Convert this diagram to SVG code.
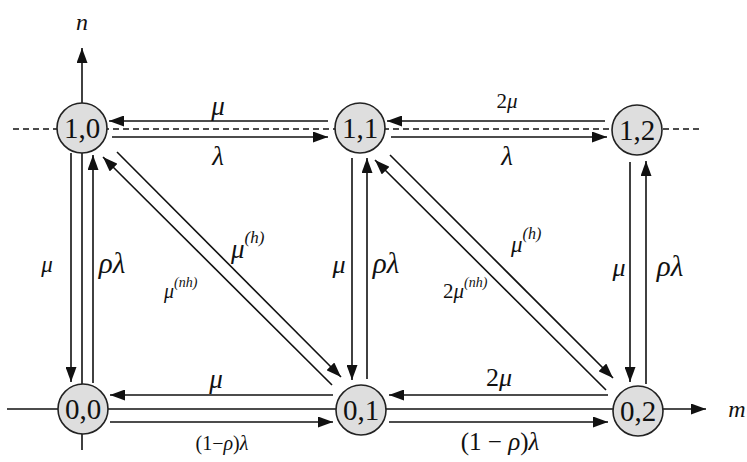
<svg xmlns="http://www.w3.org/2000/svg" width="747" height="462" viewBox="0 0 747 462">
<style>
.ln{stroke:#111;stroke-width:1.6;fill:none}
.ar{stroke:#111;stroke-width:1.6;fill:none;marker-end:url(#ah)}
.dash{stroke:#111;stroke-width:1.4;stroke-dasharray:6 4;fill:none}
.nd circle{fill:#dedede;stroke:#222;stroke-width:1.6}
.nd text{font-family:"Liberation Serif","Times New Roman",serif;font-size:29px;text-anchor:middle;fill:#111}
.lb{font-family:"Liberation Serif","Times New Roman",serif;font-style:italic;fill:#111;text-anchor:middle}
.ls{font-family:"Liberation Serif","Times New Roman",serif;font-style:italic;fill:#111;text-anchor:start}
.up{font-family:"Liberation Serif","Times New Roman",serif;fill:#111;text-anchor:middle}
</style>
<defs>
<marker id="ah" markerUnits="userSpaceOnUse" markerWidth="15" markerHeight="11" refX="15" refY="5.5" orient="auto">
<path d="M0,0 L15,5.5 L0,11 z" fill="#111"/>
</marker>
</defs>
<g id="axes">
<line class="dash" x1="13" y1="129" x2="700" y2="129"/>
<line class="ar" x1="82" y1="450" x2="82" y2="48"/>
<line class="ar" x1="7" y1="409" x2="706" y2="409"/>
<text class="lb" x="82" y="30" font-size="24">n</text>
<text class="lb" x="737" y="417" font-size="24">m</text>
</g>
<g id="connectors">
<line class="ar" x1="328" y1="121" x2="109" y2="121"/>
<line class="ar" x1="112" y1="137" x2="328" y2="137"/>
<line class="ar" x1="605" y1="121" x2="387" y2="121"/>
<line class="ar" x1="391" y1="137" x2="607" y2="137"/>
<line class="ar" x1="333" y1="395" x2="110" y2="395"/>
<line class="ar" x1="110" y1="422" x2="333" y2="422"/>
<line class="ar" x1="608" y1="395" x2="389" y2="395"/>
<line class="ar" x1="389" y1="422" x2="608" y2="422"/>
<line class="ar" x1="71" y1="153" x2="71" y2="382"/>
<line class="ar" x1="93" y1="383" x2="93" y2="155"/>
<line class="ar" x1="352" y1="158" x2="352" y2="380"/>
<line class="ar" x1="367" y1="379" x2="367" y2="158"/>
<line class="ar" x1="630" y1="162" x2="630" y2="382"/>
<line class="ar" x1="646" y1="384" x2="646" y2="161"/>
<line class="ar" x1="117" y1="152" x2="341" y2="377"/>
<line class="ar" x1="332" y1="385" x2="103" y2="157"/>
<line class="ar" x1="390" y1="155" x2="613" y2="378"/>
<line class="ar" x1="606" y1="390" x2="375" y2="160"/>
</g>
<g id="labels">
<text class="lb" x="218" y="115" font-size="27">μ</text>
<text class="lb" x="218" y="165" font-size="27">λ</text>
<text class="up" x="507" y="108" font-size="21">2<tspan font-style="italic">μ</tspan></text>
<text class="lb" x="507" y="165" font-size="27">λ</text>
<text class="lb" x="47" y="272" font-size="23">μ</text>
<text class="lb" x="112" y="273" font-size="29">ρλ</text>
<text class="lb" x="339" y="273" font-size="26">μ</text>
<text class="lb" x="386" y="273" font-size="29">ρλ</text>
<text class="lb" x="619" y="276" font-size="26">μ</text>
<text class="lb" x="670" y="276" font-size="29">ρλ</text>
<text class="ls" x="231" y="258" font-size="27">μ<tspan font-size="17" dy="-15">(h)</tspan></text>
<text class="ls" x="164" y="298" font-size="20">μ<tspan font-size="14" dy="-11">(nh)</tspan></text>
<text class="ls" x="511" y="252" font-size="23">μ<tspan font-size="16" dy="-13">(h)</tspan></text>
<text x="443" y="298" font-family="Liberation Serif,Times New Roman,serif" font-size="21" fill="#111">2<tspan font-style="italic">μ</tspan><tspan font-style="italic" font-size="14" dy="-11">(nh)</tspan></text>
<text class="lb" x="216" y="388" font-size="27">μ</text>
<text class="up" x="222" y="450" font-size="20">(1−<tspan font-style="italic">ρ</tspan>)<tspan font-style="italic">λ</tspan></text>
<text class="up" x="499" y="386" font-size="26">2<tspan font-style="italic">μ</tspan></text>
<text class="up" x="500" y="450" font-size="25">(1 − <tspan font-style="italic">ρ</tspan>)<tspan font-style="italic">λ</tspan></text>
</g>
<g id="n10" class="nd"><circle cx="82" cy="128" r="25"/><text x="82" y="138">1,0</text></g>
<g id="n11" class="nd"><circle cx="360" cy="128" r="25"/><text x="360" y="138">1,1</text></g>
<g id="n12" class="nd"><circle cx="637" cy="130" r="25"/><text x="637" y="140">1,2</text></g>
<g id="n00" class="nd"><circle cx="83" cy="409" r="25"/><text x="83" y="419">0,0</text></g>
<g id="n01" class="nd"><circle cx="361" cy="410" r="25"/><text x="361" y="420">0,1</text></g>
<g id="n02" class="nd"><circle cx="638" cy="411" r="25"/><text x="638" y="421">0,2</text></g>
</svg>
